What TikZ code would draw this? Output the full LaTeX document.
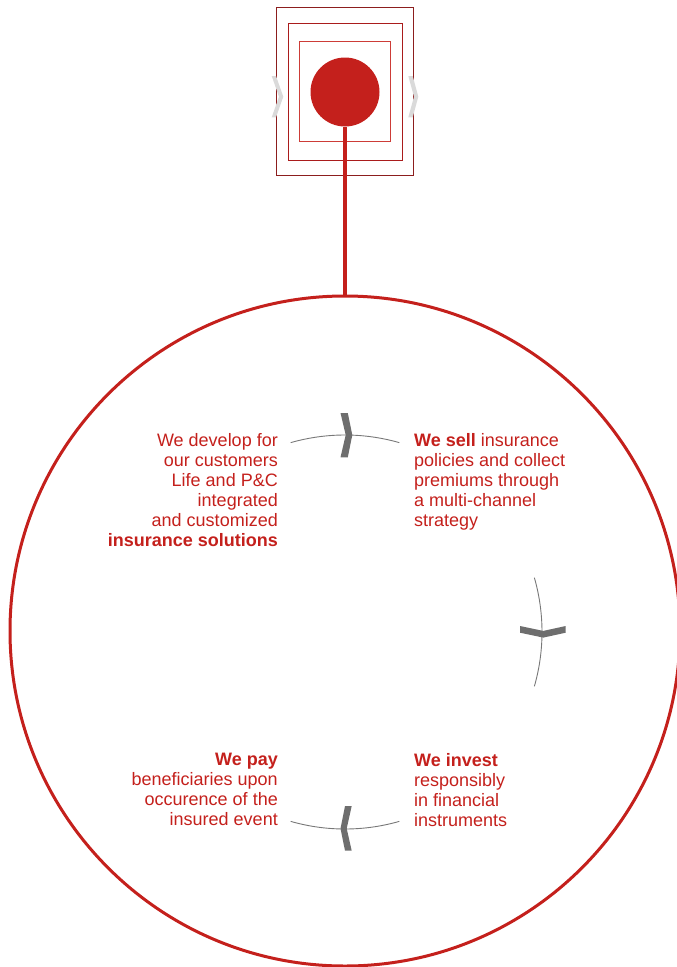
\documentclass[tikz,border=0pt]{standalone}
\usepackage{fontspec}
\setmainfont{Liberation Sans}
\definecolor{gred}{RGB}{196,32,28}
\definecolor{rectA}{RGB}{140,30,30}
\definecolor{rectB}{RGB}{170,28,28}
\definecolor{rectC}{RGB}{205,60,55}
\definecolor{chevdark}{RGB}{110,110,110}
\definecolor{chevlight}{RGB}{218,218,218}
\definecolor{arcgrey}{RGB}{120,120,120}
\begin{document}
\begin{tikzpicture}[x=1pt,y=-1pt,
  txt/.style={text=gred,font=\fontsize{18}{20}\selectfont,inner sep=0pt},
  frame/.style={line width=1pt},
  arcline/.style={draw=arcgrey,line width=0.9pt},
  chevd/.style={fill=chevdark,draw=none},
  chevl/.style={fill=chevlight,draw=none},
  redline/.style={draw=gred,line width=3.2pt}]
\useasboundingbox (0,0) rectangle (677,967);
% top frames
\draw[frame,rectA] (276.7,7.3) rectangle (413.3,175);
\draw[frame,rectB] (288.3,23.3) rectangle (402.3,160);
\draw[frame,rectC] (299.3,41.7) rectangle (390.7,141.7);
% light chevrons
\fill[chevl] (271.7,76) -- (276,76) -- (283.3,96.7) -- (276,117.3) -- (271.7,117.3) -- (279,96.7) -- cycle;
\fill[chevl] (408.3,76) -- (412.7,76) -- (418.3,96.7) -- (412.7,117.3) -- (408.3,117.3) -- (414,96.7) -- cycle;
% red dot and big circle
\node[circle,fill=gred,draw=none,minimum size=69pt,inner sep=0pt] (dot) at (345,92) {};
\node[circle,draw=gred,line width=3pt,minimum size=670pt,inner sep=0pt] (big) at (345,631) {};
\draw[redline] (dot.south) -- (big.north);
% cycle arcs
\coordinate (cc) at (345,632);
\draw[arcline] (cc) ++(74:197pt) arc[start angle=74,end angle=106,radius=197pt];
\draw[arcline] (cc) ++(-16:197pt) arc[start angle=-16,end angle=16,radius=197pt];
\draw[arcline] (cc) ++(254:197pt) arc[start angle=254,end angle=286,radius=197pt];
% dark chevrons
\fill[chevd] (340.5,413) -- (347.8,413) -- (352.3,435) -- (347.8,457.3) -- (340.5,457.3) -- (345.7,435) -- cycle;
\fill[chevd] (520,626) -- (520,632.7) -- (543.3,637.6) -- (565.7,632.7) -- (565.7,626) -- (543.3,630.9) -- cycle;
\fill[chevd] (351.7,806) -- (345,806) -- (340.5,828.5) -- (345,850.7) -- (351.7,850.7) -- (346.7,828.5) -- cycle;
% texts
\node[txt,anchor=north east,align=right] (develop) at (278,433)
  {We develop for\\our customers\\Life and P\&C\\integrated\\and customized\\\textbf{insurance solutions}};
\node[txt,anchor=north west,align=left] (sell) at (414,433)
  {\textbf{We sell} insurance\\policies and collect\\premiums through\\a multi-channel\\strategy};
\node[txt,anchor=north east,align=right] (pay) at (278,753)
  {\textbf{We pay}\\beneficiaries upon\\occurence of the\\insured event};
\node[txt,anchor=north west,align=left] (invest) at (414,753)
  {\textbf{We invest}\\responsibly\\in financial\\instruments};
\end{tikzpicture}
\end{document}
